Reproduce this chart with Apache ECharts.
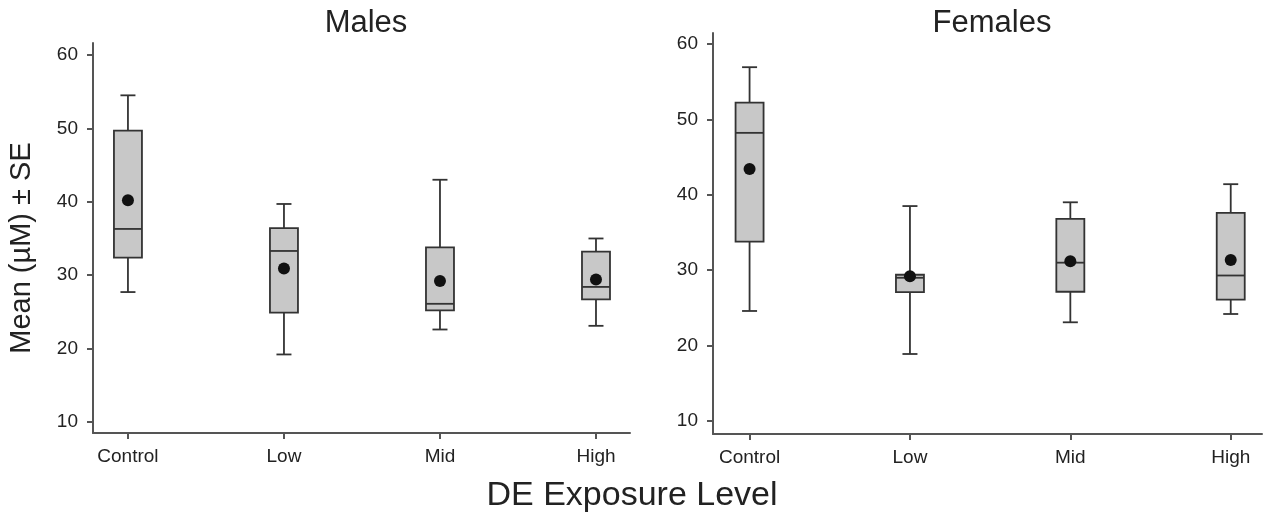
<!DOCTYPE html>
<html>
<head>
<meta charset="utf-8">
<script src="https://cdn.jsdelivr.net/npm/echarts@6/dist/echarts.min.js"></script>
<style>
html,body{margin:0;padding:0;background:#fff;}
#chart{width:1265px;height:514px;}
</style>
</head>
<body>
<div id="chart"></div>
<script>
// ---- data ----
var categories = ['Control', 'Low', 'Mid', 'High'];
var yTicks = [10, 20, 30, 40, 50, 60];
// box stats per category: [lowerWhisker, Q1, median, Q3, upperWhisker]
var malesBox = [
  [27.7, 32.4, 36.3, 49.7, 54.5],
  [19.2, 24.9, 33.3, 36.4, 39.7],
  [22.6, 25.2, 26.1, 33.8, 43.0],
  [23.1, 26.7, 28.4, 33.2, 35.0]
];
var malesMean = [40.2, 30.9, 29.2, 29.4];
var femalesBox = [
  [24.6, 33.8, 48.2, 52.2, 56.9],
  [18.9, 27.1, 29.0, 29.4, 38.5],
  [23.1, 27.15, 31.0, 36.8, 39.0],
  [24.2, 26.1, 29.3, 37.6, 41.4]
];
var femalesMean = [43.4, 29.2, 31.2, 31.35];

var TEXT = '#222';
var AXIS = '#555';
var FONT = '"Liberation Sans", Arial, Helvetica, sans-serif';

function boxData(stats) {
  return stats.map(function (s, i) { return [i].concat(s); });
}
function meanData(m) {
  return m.map(function (v, i) { return [i, v]; });
}

function renderBox(params, api) {
  var x = api.value(0);
  var pMin = api.coord([x, api.value(1)]);
  var pQ1 = api.coord([x, api.value(2)]);
  var pMed = api.coord([x, api.value(3)]);
  var pQ3 = api.coord([x, api.value(4)]);
  var pMax = api.coord([x, api.value(5)]);
  var cx = pMed[0];
  var bw = 28, cw = 15;
  var lineStyle = { stroke: '#333', lineWidth: 1.8, fill: null };
  return {
    type: 'group',
    children: [
      { type: 'line', shape: { x1: cx, y1: pMax[1], x2: cx, y2: pQ3[1] }, style: lineStyle },
      { type: 'line', shape: { x1: cx, y1: pQ1[1], x2: cx, y2: pMin[1] }, style: lineStyle },
      { type: 'line', shape: { x1: cx - cw / 2, y1: pMax[1], x2: cx + cw / 2, y2: pMax[1] }, style: lineStyle },
      { type: 'line', shape: { x1: cx - cw / 2, y1: pMin[1], x2: cx + cw / 2, y2: pMin[1] }, style: lineStyle },
      { type: 'rect', shape: { x: cx - bw / 2, y: pQ3[1], width: bw, height: pQ1[1] - pQ3[1] },
        style: { fill: '#c8c8c8', stroke: '#333', lineWidth: 1.8 } },
      { type: 'line', shape: { x1: cx - bw / 2, y1: pMed[1], x2: cx + bw / 2, y2: pMed[1] }, style: lineStyle }
    ]
  };
}

function xAxisCfg(gridIndex, min, max) {
  return {
    type: 'value', gridIndex: gridIndex, min: min, max: max,
    splitLine: { show: false },
    axisLine: { show: true, onZero: false, lineStyle: { color: AXIS, width: 2 } },
    axisTick: { show: true, customValues: [0, 1, 2, 3], length: 6, lineStyle: { color: AXIS, width: 2 } },
    axisLabel: {
      customValues: [0, 1, 2, 3], margin: 14,
      formatter: function (v) { return categories[Math.round(v)]; },
      color: TEXT, fontSize: 19, fontFamily: FONT
    }
  };
}
function yAxisCfg(gridIndex, min, max) {
  return {
    type: 'value', gridIndex: gridIndex, min: min, max: max,
    splitLine: { show: false },
    axisLine: { show: true, onZero: false, lineStyle: { color: AXIS, width: 2 } },
    axisTick: { show: true, customValues: yTicks, length: 6, lineStyle: { color: AXIS, width: 2 } },
    axisLabel: {
      customValues: yTicks, margin: 15,
      color: TEXT, fontSize: 19, fontFamily: FONT
    }
  };
}

var chart = echarts.init(document.getElementById('chart'), null, { renderer: 'canvas' });
chart.setOption({
  backgroundColor: '#fff',
  animation: false,
  grid: [
    { left: 93, right: 1265 - 630, top: 43, bottom: 514 - 433 },
    { left: 713, right: 1265 - 1262, top: 33, bottom: 514 - 434 }
  ],
  xAxis: [xAxisCfg(0, -0.224, 3.218), xAxisCfg(1, -0.228, 3.195)],
  yAxis: [yAxisCfg(0, 8.5, 61.63), yAxisCfg(1, 8.3, 61.43)],
  graphic: [
    { type: 'text', x: 366, y: 23, style: { text: 'Males', fill: TEXT, font: '31px ' + FONT, textAlign: 'center', textVerticalAlign: 'middle' } },
    { type: 'text', x: 992, y: 23, style: { text: 'Females', fill: TEXT, font: '31px ' + FONT, textAlign: 'center', textVerticalAlign: 'middle' } },
    { type: 'text', x: 632, y: 496, style: { text: 'DE Exposure Level', fill: TEXT, font: '34px ' + FONT, textAlign: 'center', textVerticalAlign: 'middle' } },
    { type: 'text', x: 22, y: 248, rotation: Math.PI / 2, style: { text: 'Mean (µM) ± SE', fill: TEXT, font: '29px ' + FONT, textAlign: 'center', textVerticalAlign: 'middle' } }
  ],
  series: [
    { type: 'custom', xAxisIndex: 0, yAxisIndex: 0, renderItem: renderBox, data: boxData(malesBox), z: 2 },
    { type: 'scatter', xAxisIndex: 0, yAxisIndex: 0, data: meanData(malesMean), symbolSize: 12, itemStyle: { color: '#111', opacity: 1 }, z: 3 },
    { type: 'custom', xAxisIndex: 1, yAxisIndex: 1, renderItem: renderBox, data: boxData(femalesBox), z: 2 },
    { type: 'scatter', xAxisIndex: 1, yAxisIndex: 1, data: meanData(femalesMean), symbolSize: 12, itemStyle: { color: '#111', opacity: 1 }, z: 3 }
  ]
});
</script>
</body>
</html>
